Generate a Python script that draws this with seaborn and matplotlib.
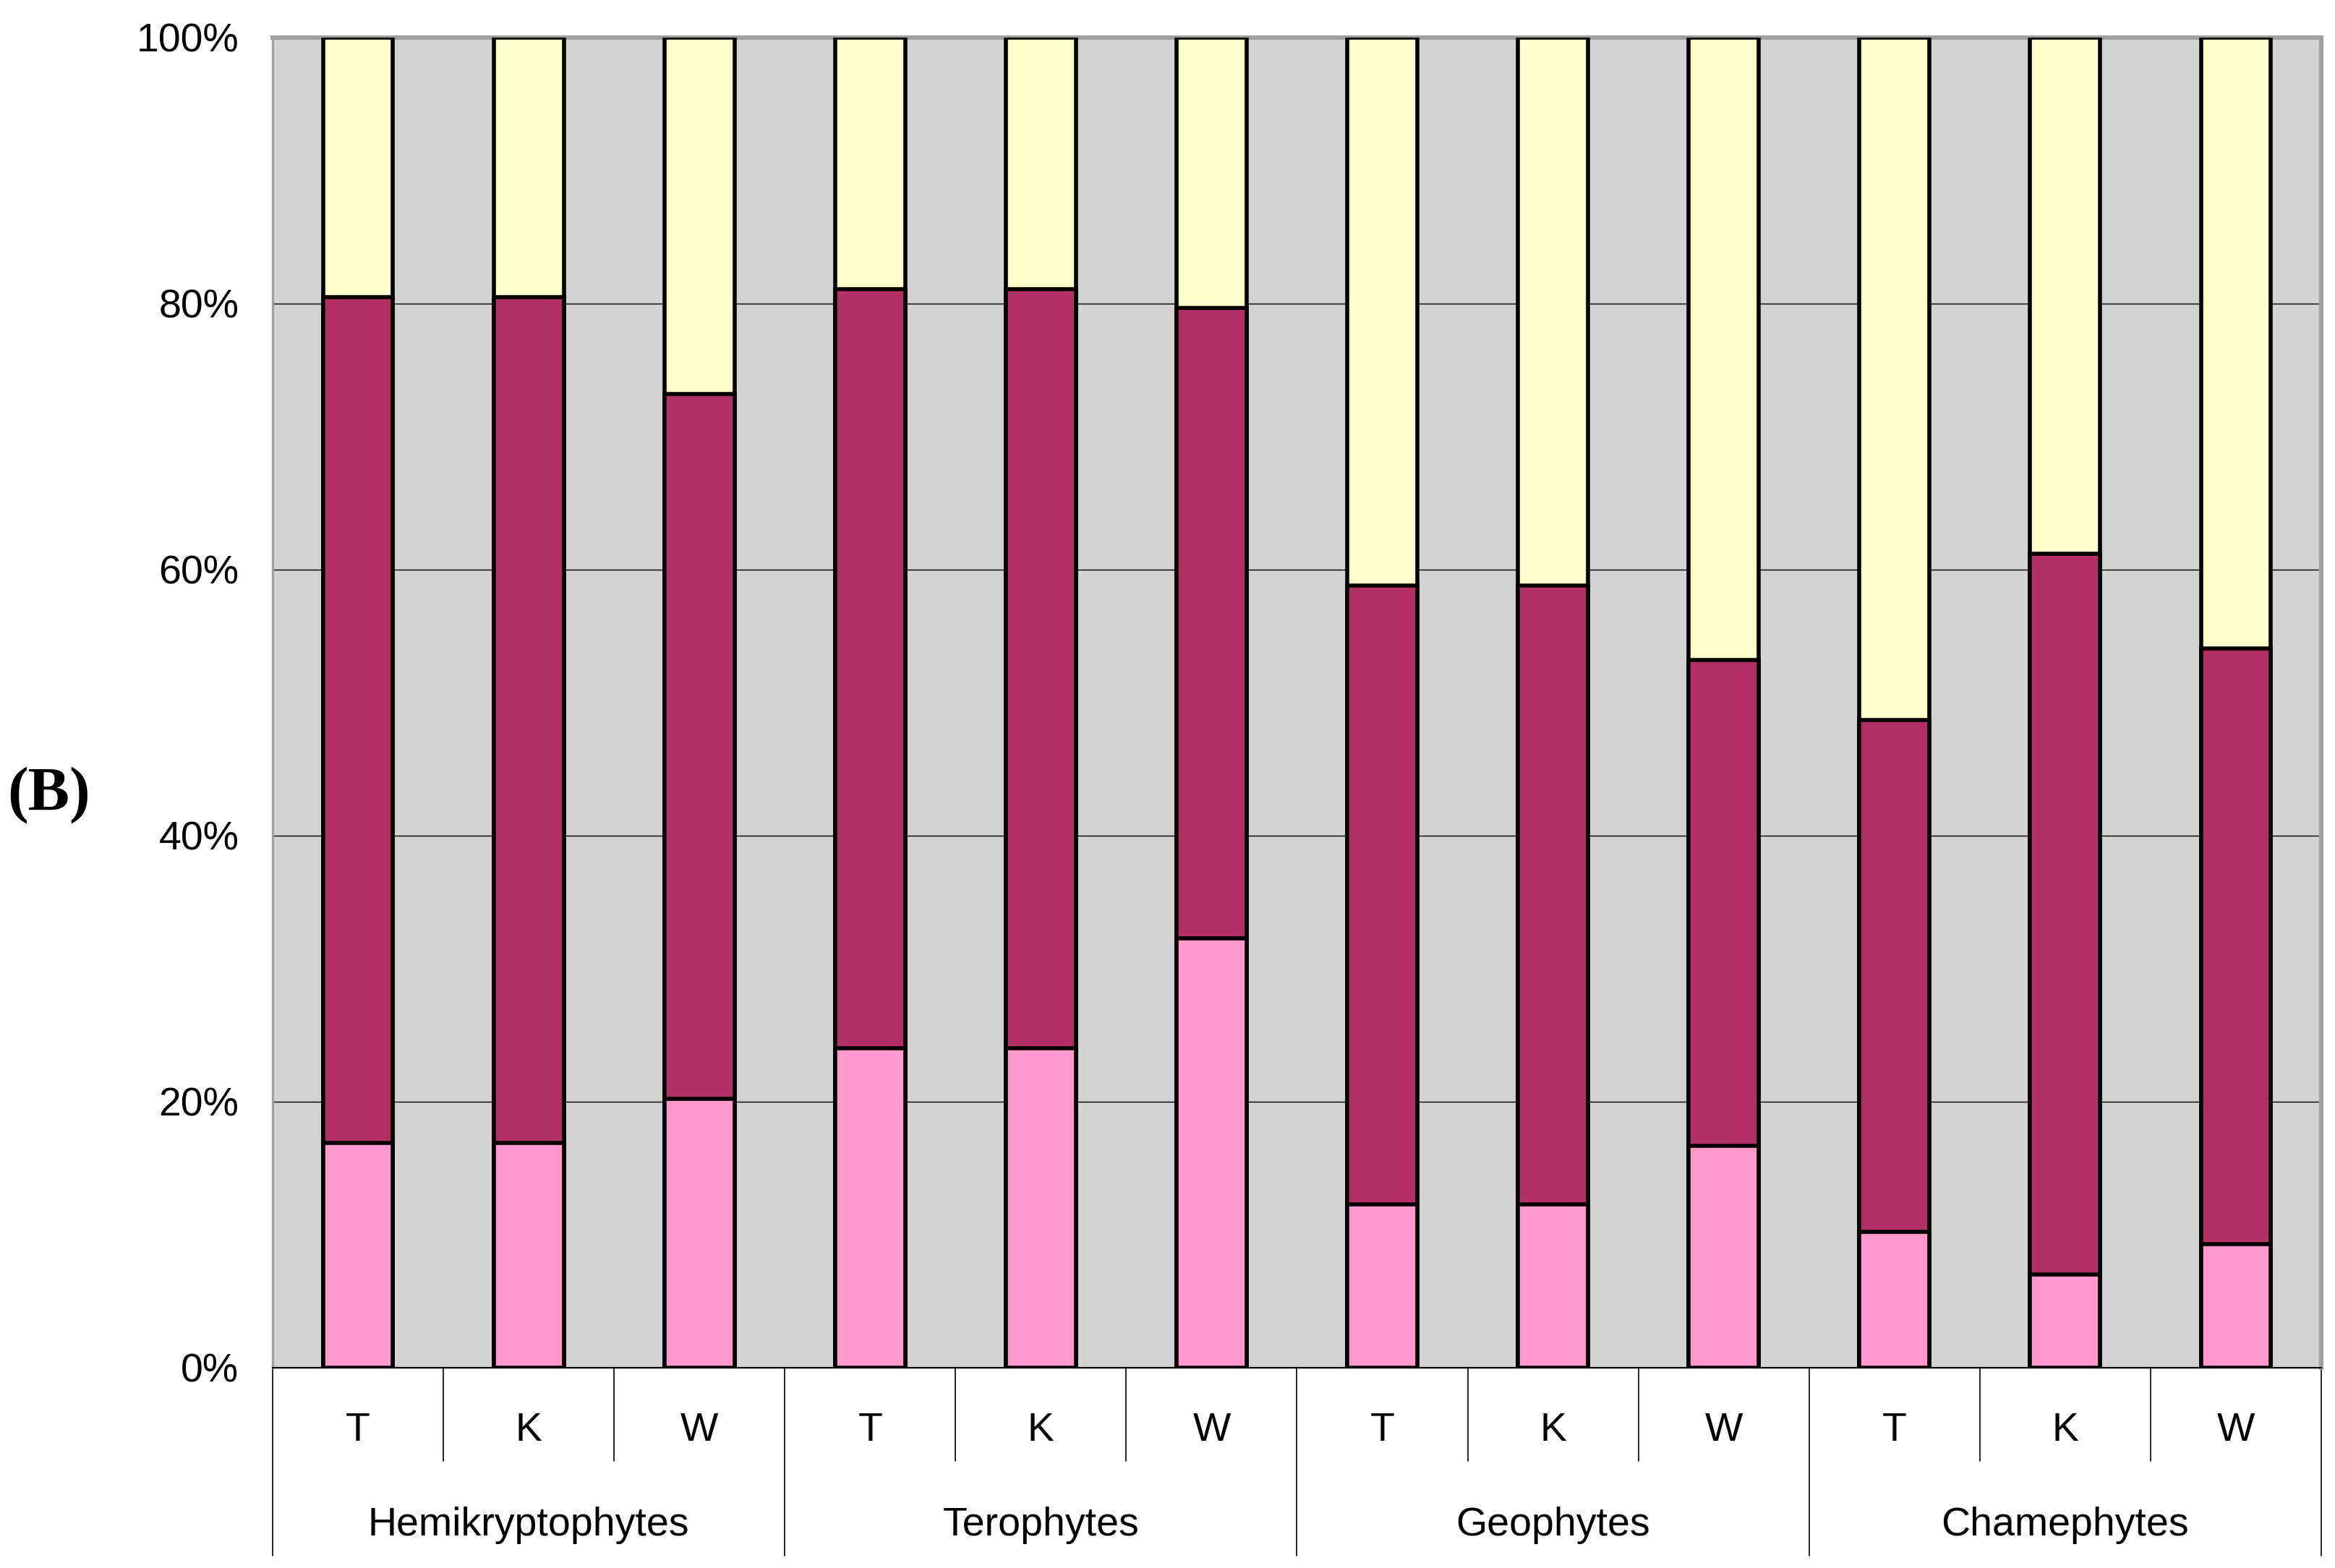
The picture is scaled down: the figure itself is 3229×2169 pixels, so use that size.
import seaborn as sns
import matplotlib.pyplot as plt
import pandas as pd

# life forms x sites, shares in %
groups = ['Hemikryptophytes', 'Terophytes', 'Geophytes', 'Chamephytes']
sites = ['T', 'K', 'W']
pink = [16.9, 16.9, 20.2, 24.0, 24.0, 32.3, 12.3, 12.3, 16.7, 10.2, 7.0, 9.3]
plum = [63.6, 63.6, 53.0, 57.1, 57.1, 47.4, 46.5, 46.5, 36.5, 38.5, 54.2, 44.8]
yellow = [19.5, 19.5, 26.8, 18.9, 18.9, 20.3, 41.2, 41.2, 46.8, 51.3, 38.8, 45.9]

labels = [g + '-' + s for g in groups for s in sites]
df = pd.DataFrame({'cat': labels, 'pink': pink, 'plum': plum, 'yellow': yellow})
df['c1'] = df['pink']
df['c2'] = df['pink'] + df['plum']
df['c3'] = df['c2'] + df['yellow']

sns.set_style('white')
plt.rcParams['font.family'] = ['Liberation Sans', 'DejaVu Sans']
plt.rcParams['text.color'] = 'black'
plt.rcParams['ytick.labelcolor'] = 'black'

fig = plt.figure(figsize=(16.145, 10.845), dpi=200)
ax = fig.add_axes([0.11675, 0.12771, 0.87736, 0.84832])
ax.set_facecolor('#D3D3D3')

for col, color in [('c3', '#FFFFCC'), ('c2', '#B33064'), ('c1', '#FF99CC')]:
    sns.barplot(data=df, x='cat', y=col, order=labels, color=color, width=0.41,
                edgecolor='black', linewidth=2.0, saturation=1, ax=ax, zorder=3)

ax.set_xlim(-0.5, 11.5)
ax.set_ylim(0, 100)
ax.set_yticks([0, 20, 40, 60, 80, 100])
ax.set_yticklabels(['0%', '20%', '40%', '60%', '80%', '100%'], fontsize=20)
ax.tick_params(axis='y', direction='out', length=5.8, width=0.7, color='black', pad=11)
ax.set_xticks([])
ax.set_xlabel('')
ax.set_ylabel('')
for y in [20, 40, 60, 80]:
    ax.axhline(y, color='black', lw=0.5, zorder=1)

for side in ['top', 'right', 'left']:
    ax.spines[side].set_color('#A0A0A0')
    ax.spines[side].set_linewidth(2.2)
ax.spines['left'].set_linewidth(1.2)
ax.spines['bottom'].set_color('black')
ax.spines['bottom'].set_linewidth(0.8)

# hierarchical x labels
tr = ax.get_xaxis_transform()
for i, lab in enumerate(labels):
    ax.text(i, -0.0549, lab.split('-')[1], transform=tr, ha='center', va='baseline', fontsize=20)
for j, g in enumerate(groups):
    ax.text(j * 3 + 1, -0.1261, g, transform=tr, ha='center', va='baseline', fontsize=20)
for k in range(13):
    x = k - 0.5
    y1 = -0.1413 if k % 3 == 0 else -0.0701
    ax.plot([x, x], [0, y1], transform=tr, color='black', lw=0.6, clip_on=False)

fig.text(0.021, 0.493, '(B)', fontsize=31, fontweight='bold', family='Liberation Serif',
         ha='center', va='center', color='black')

fig.savefig('out.png', dpi=200)
